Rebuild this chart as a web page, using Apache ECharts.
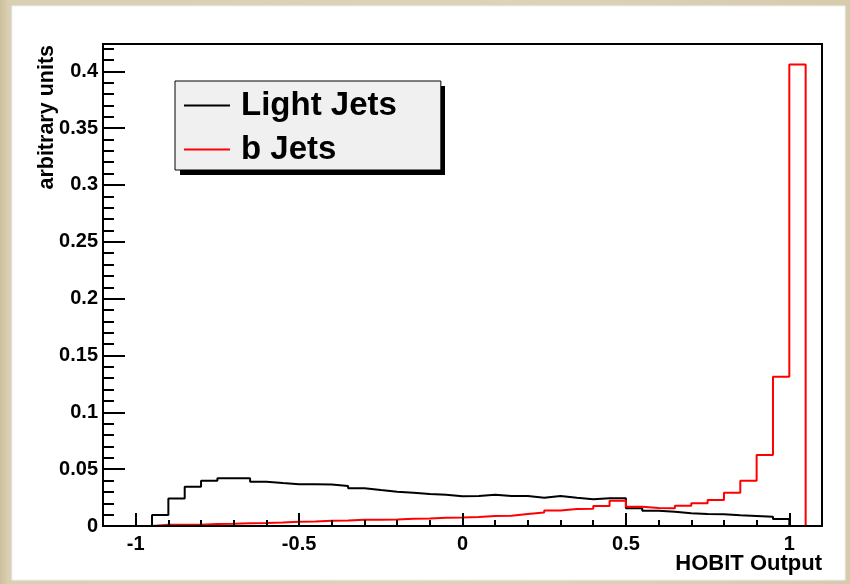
<!DOCTYPE html>
<html>
<head>
<meta charset="utf-8">
<script src="https://cdn.jsdelivr.net/npm/echarts@6/dist/echarts.min.js"></script>
<style>
  html, body { margin: 0; padding: 0; }
  #wrap {
    width: 850px; height: 584px; position: relative;
    background: linear-gradient(90deg, #cdbf9c 0px, #d9cfb3 8px, #ddd3b8 60%, #d6cbad 100%);
  }
  #chart { position: absolute; left: 0; top: 0; width: 850px; height: 584px; }
</style>
</head>
<body>
<div id="wrap"><div id="chart"></div></div>
<script>
// Histogram binning: 44 bins of width 0.05 on [-1.1, 1.1]
const binLow = -1.1;
const binWidth = 0.05;

// Light-jet HOBIT output distribution (normalised)
const lightJets = [
  0, 0, 0, 0.0097, 0.0243, 0.0346, 0.0398, 0.0419, 0.0419, 0.0390,
  0.0378, 0.0367, 0.0367, 0.0364, 0.0352, 0.0333, 0.0316, 0.0302, 0.0293, 0.0281,
  0.0275, 0.0262, 0.0264, 0.0275, 0.0264, 0.0264, 0.0249, 0.0264, 0.0249, 0.0235,
  0.0244, 0.0244, 0.0156, 0.0135, 0.0126, 0.0113, 0.0105, 0.0103, 0.0094, 0.0088,
  0.0082, 0.0062, 0, 0
];

// b-jet HOBIT output distribution (normalised)
const bJets = [
  0, 0, 0, 0.0011, 0.0011, 0.0012, 0.0018, 0.0020, 0.0025, 0.0027,
  0.0031, 0.0038, 0.0040, 0.0046, 0.0048, 0.0054, 0.0055, 0.0057, 0.0063, 0.0066,
  0.0072, 0.0074, 0.0080, 0.0088, 0.0090, 0.0105, 0.0118, 0.0136, 0.0150, 0.0152,
  0.0177, 0.0222, 0.0170, 0.0158, 0.0156, 0.0178, 0.0200, 0.0229, 0.0293, 0.0398,
  0.0624, 0.1313, 0.406, 0
];

// Axis tick positions
const xMajorTicks = [-1, -0.5, 0, 0.5, 1];
const xMinorTicks = [-1.1, -0.9, -0.8, -0.7, -0.6, -0.4, -0.3, -0.2, -0.1,
                     0.1, 0.2, 0.3, 0.4, 0.6, 0.7, 0.8, 0.9, 1.1];
const yMajorTicks = [0, 0.05, 0.1, 0.15, 0.2, 0.25, 0.3, 0.35, 0.4];
const yMinorTicks = [];
for (let k = 1; k <= 42; k++) {
  if (k % 5 !== 0) yMinorTicks.push(+(k * 0.01).toFixed(2));
}

const xMin = -1.1, xMax = 1.1;
const yMin = 0, yMax = 0.424;

// Step outline points: one point per bin low edge, closed at the upper edge
function histPoints(values) {
  const pts = [];
  for (let i = 0; i < values.length; i++) {
    pts.push([+(binLow + i * binWidth).toFixed(4), values[i]]);
  }
  pts.push([+(binLow + values.length * binWidth).toFixed(4), 0]);
  return pts;
}

const FONT = 'Liberation Sans, Arial, Helvetica, sans-serif';
const chart = echarts.init(document.getElementById('chart'), null, { renderer: 'canvas' });

chart.setOption({
  animation: false,
  backgroundColor: 'transparent',
  graphic: [{
    // white canvas panel
    type: 'rect', z: -10, silent: true,
    shape: { x: 12, y: 6, width: 833, height: 574 },
    style: { fill: '#ffffff', stroke: '#eef3f3', lineWidth: 1 }
  }, {
    // drop shadow of the legend box
    type: 'rect', z: 4, silent: true,
    shape: { x: 180, y: 86, width: 265, height: 89 },
    style: { fill: '#000000' }
  }, {
    type: 'text', z: 10, silent: true,
    right: 28, top: 553,
    style: { text: 'HOBIT Output', fill: '#000', font: 'bold 22px ' + FONT, textAlign: 'right' }
  }],
  grid: {
    left: 103, right: 28, top: 44, bottom: 58,
    containLabel: false, outerBoundsMode: 'none',
    show: true, borderColor: '#000', borderWidth: 2, backgroundColor: '#fff'
  },
  legend: {
    left: 175, top: 81, orient: 'vertical', z: 6,
    backgroundColor: '#f0f0f0', borderColor: '#000', borderWidth: 1,
    padding: [8, 44, 4, 9], itemGap: 11, itemWidth: 46, itemHeight: 2,
    icon: 'rect',
    textStyle: { fontFamily: FONT, fontWeight: 'bold', fontSize: 33, color: '#000', padding: [0, 0, 0, 6] },
    data: ['Light Jets', 'b Jets']
  },
  xAxis: [{
    type: 'value', min: xMin, max: xMax, position: 'bottom', z: 5,
    axisLine: { show: true, onZero: false, lineStyle: { color: '#000', width: 2 } },
    axisTick: { show: true, inside: true, length: 13, customValues: xMajorTicks, lineStyle: { color: '#000', width: 2 } },
    axisLabel: { show: true, customValues: xMajorTicks, margin: 8,
                 fontFamily: FONT, fontWeight: 'bold', fontSize: 20, color: '#000' },
    splitLine: { show: false }
  }, {
    type: 'value', min: xMin, max: xMax, position: 'bottom', z: 5,
    axisLine: { show: false, onZero: false },
    axisTick: { show: true, inside: true, length: 6, customValues: xMinorTicks, lineStyle: { color: '#000', width: 2 } },
    axisLabel: { show: false },
    splitLine: { show: false }
  }],
  yAxis: [{
    type: 'value', min: yMin, max: yMax, position: 'left',
    name: 'arbitrary units', nameLocation: 'end', nameGap: -1, nameRotate: 90,
    nameMoveOverlap: false,
    nameTextStyle: { fontFamily: FONT, fontWeight: 'bold', fontSize: 21.5, color: '#000',
                     align: 'right', verticalAlign: 'bottom', padding: [0, 0, 45, 0] },
    axisLine: { show: true, onZero: false, lineStyle: { color: '#000', width: 2 } },
    axisTick: { show: true, inside: true, length: 22, customValues: yMajorTicks, lineStyle: { color: '#000', width: 2 } },
    axisLabel: { show: true, customValues: yMajorTicks, margin: 5,
                 fontFamily: FONT, fontWeight: 'bold', fontSize: 20, color: '#000' },
    splitLine: { show: false }
  }, {
    type: 'value', min: yMin, max: yMax, position: 'left',
    axisLine: { show: false, onZero: false },
    axisTick: { show: true, inside: true, length: 11, customValues: yMinorTicks, lineStyle: { color: '#000', width: 2 } },
    axisLabel: { show: false },
    splitLine: { show: false }
  }],
  series: [{
    name: 'Light Jets', type: 'line', step: 'end', symbol: 'none',
    xAxisIndex: 0, yAxisIndex: 0,
    color: '#000000',
    lineStyle: { color: '#000000', width: 2 },
    data: histPoints(lightJets), z: 3
  }, {
    name: 'b Jets', type: 'line', step: 'end', symbol: 'none',
    xAxisIndex: 0, yAxisIndex: 0,
    color: '#ff0000',
    lineStyle: { color: '#ff0000', width: 2 },
    data: histPoints(bJets), z: 4
  }]
});
</script>
</body>
</html>
